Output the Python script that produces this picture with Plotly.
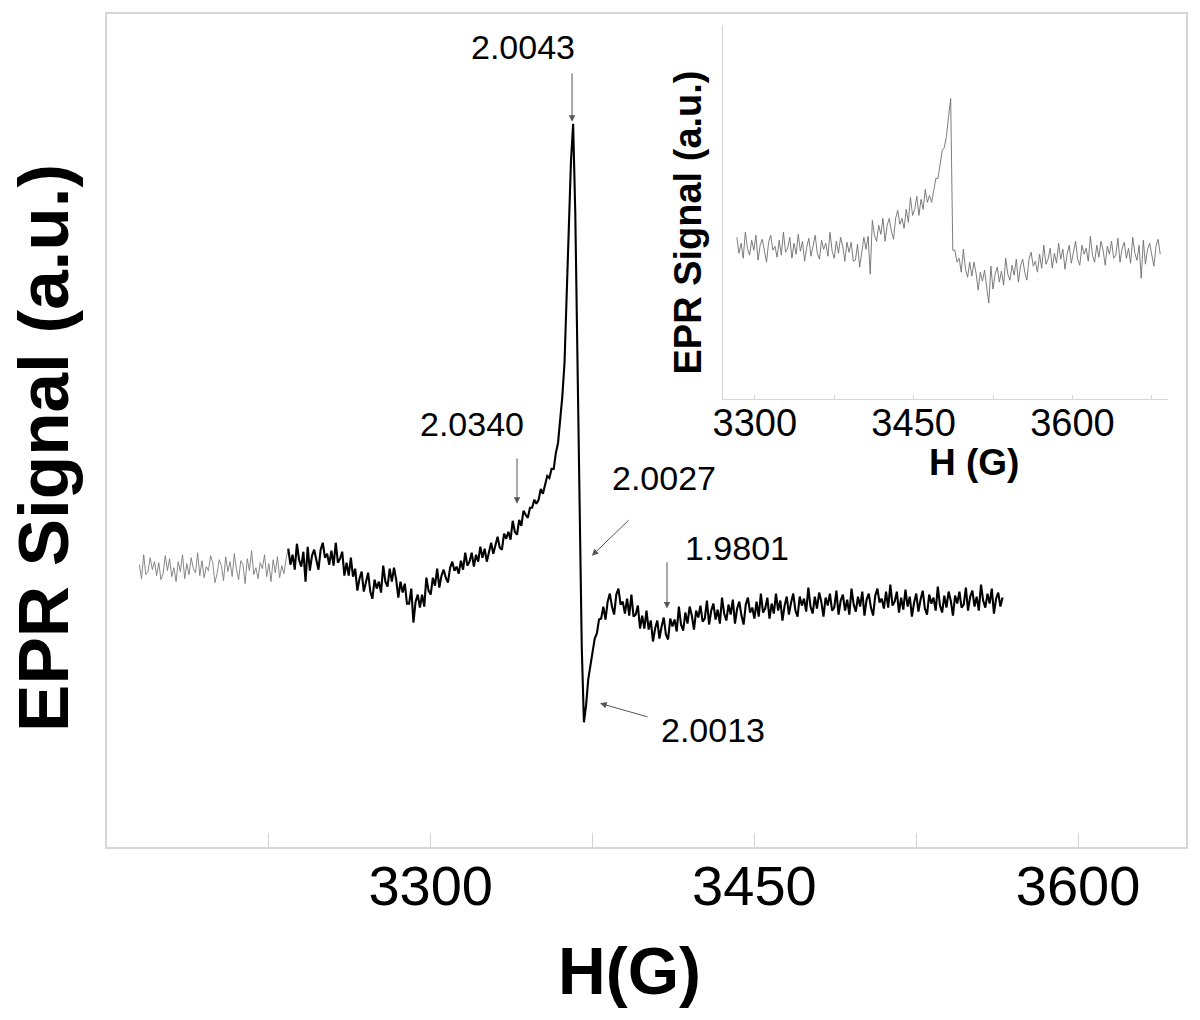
import numpy as np
import plotly.graph_objects as go

# Main spectrum: field sweep (G), 1 G per point
gray_start = 3165
gray_signal = [
    3, -11, 13, -7, -4, 10, -2, 6, -8, 5,
    -12, -6, 12, -3, 9, -9, 0, -14, 6, -4,
    13, -11, 4, -7, 10, -1, -5, 15, -8, 7,
    -10, 1, -3, 12, 5, -15, -6, 8, 2, -13,
    11, -4, 6, -9, 14, -2, -12, 7, 3, -16,
    9, -3, 17, -7, 0, -11, 5, -1, 13, -9,
    4, -14, 8, -5, 11, -10, 2, -6, 9, 19,
]

main_start = 3234
main_signal = [
    19, 3, 13, -2, 24, 8, 1, 16, -14, 21,
    -3, 12, 18, 7, -2, 18, 25, 10, 14, 3,
    17, 2, 25, 5, 9, 16, -8, 5, -8, 10,
    -9, -1, -23, -11, -4, -24, -13, -5, -24, -31,
    -12, -21, -14, -25, 2, -14, -19, -1, -14, 0,
    -12, -30, -14, -25, -16, -36, -36, -21, -55, -34,
    -27, -40, -27, -39, -10, -23, -27, -10, -18, -1,
    -20, -8, -2, -10, -15, 0, 6, -3, 1, -6,
    7, -2, 15, 2, 6, 15, 1, 13, 6, 21,
    10, 19, 6, 17, 25, 14, 23, 31, 20, 18,
    34, 29, 36, 28, 47, 36, 33, 48, 42, 57,
    53, 50, 60, 60, 68, 64, 68, 79, 74, 84,
    92, 90, 99, 99, 115, 125, 148, 172, 205, 265,
    340, 407, 445, 355, 215, 60, -80, -155, -138, -112,
    -97, -86, -71, -66, -52, -51, -39, -52, -34, -26,
    -39, -47, -27, -21, -37, -34, -46, -31, -48, -27,
    -49, -47, -38, -61, -48, -61, -43, -62, -53, -74,
    -61, -53, -71, -59, -50, -67, -72, -51, -59, -52,
    -64, -39, -57, -63, -45, -56, -39, -48, -62, -43,
    -50, -38, -54, -51, -33, -57, -43, -36, -52, -42,
    -56, -30, -46, -53, -37, -47, -32, -56, -41, -34,
    -48, -57, -37, -30, -45, -40, -51, -34, -49, -26,
    -45, -41, -30, -51, -36, -46, -26, -43, -33, -53,
    -38, -29, -47, -35, -26, -43, -49, -29, -38, -31,
    -44, -20, -39, -46, -29, -41, -25, -34, -49, -30,
    -38, -26, -43, -40, -23, -47, -33, -27, -43, -32,
    -47, -21, -37, -44, -29, -39, -24, -48, -32, -26,
    -40, -48, -28, -21, -35, -31, -41, -24, -40, -17,
    -38, -34, -24, -45, -30, -42, -22, -39, -29, -49,
    -35, -26, -44, -32, -23, -41, -47, -27, -36, -30,
    -43, -19, -38, -45, -28, -40, -24, -33, -48, -28,
    -36, -24, -40, -37, -20, -43, -29, -23, -39, -29,
    -43, -17, -33, -40, -26, -36, -21, -46, -31, -25,
    -39, -30,
]

# Inset spectrum: 2 G per point
inset_start = 3283
inset_signal = [
    11, -5, 5, -10, 16, 0, -7, 8, -2, 13,
    -12, 3, 9, -5, -14, 6, 13, -2, 2, -9,
    8, -7, 16, -4, 0, 11, -10, 5, -6, 14,
    -3, 7, -13, 1, 10, -8, 4, 13, -5, -11,
    8, -1, 5, -8, 16, -3, -10, 7, -5, 11,
    2, -13, 6, -4, 6, -13, -12, 4, -19, -1,
    11, -1, 12, -26, 28, 13, 7, 23, 14, 30,
    7, 23, 30, 17, 9, 30, 38, 24, 30, 20,
    39, 26, 51, 33, 39, 52, 33, 49, 39, 59,
    46, 53, 46, 58, 70, 70, 84, 98, 101, 112,
    132, 150, -2, -2, -14, -10, -24, -1, -21, -29,
    -14, -28, -14, -25, -42, -24, -33, -22, -39, -55,
    -18, -41, -26, -19, -34, -23, -37, -10, -26, -32,
    -17, -27, -11, -34, -18, -11, -24, -32, -11, -4,
    -18, -13, -24, -6, -20, 3, -16, -11, 0, -20,
    -5, -15, 5, -11, -1, -21, -6, 3, -15, -2,
    7, -11, -17, 3, -6, 0, -13, 12, -7, -14,
    3, -9, 7, -2, -17, 2, -6, 7, -10, -7,
    10, -14, 0, 6, -10, 0, -15, 11, -5, -12,
    3, -30, 8, -16, -1, 5, -9, -18, 2, 9,
    -6,
]

tick_vals = [3150, 3225, 3300, 3375, 3450, 3525, 3600]
tick_text = ["", "", "3300", "", "3450", "", "3600"]
inset_tick_vals = [3300, 3375, 3450, 3525, 3600, 3675]
inset_tick_text = ["3300", "", "3450", "", "3600", ""]

# g-value labels: (text, arrow head H, head y, tail H, tail y, text H, text y)
g_labels = [
    ("2.0043", 3365.5, 447, 3365.5, 497, 3342.8, 522),
    ("2.0340", 3340.0, 64, 3340.0, 111, 3319.1, 144),
    ("2.0027", 3374.7, 12, 3392.4, 49, 3408.1, 90),
    ("1.9801", 3409.5, -41, 3409.5, 7, 3441.9, 20),
    ("2.0013", 3378.5, -136, 3401.2, -150, 3430.8, -163),
]

gray_x = gray_start + np.arange(len(gray_signal))
main_x = main_start + np.arange(len(main_signal))
inset_x = inset_start + 2 * np.arange(len(inset_signal))

FONT = "Liberation Sans, Arial, sans-serif"
GRID = "#d6d6d6"

fig = go.Figure()
fig.add_trace(go.Scatter(x=gray_x, y=gray_signal, mode="lines",
                         line=dict(color="#7a7a7a", width=0.9), showlegend=False))
fig.add_trace(go.Scatter(x=main_x, y=main_signal, mode="lines",
                         line=dict(color="black", width=2.1), showlegend=False))
fig.add_trace(go.Scatter(x=inset_x, y=inset_signal, mode="lines",
                         line=dict(color="#6e6e6e", width=0.9), showlegend=False,
                         xaxis="x2", yaxis="y2"))

annotations = []
for txt, hx, hy, tx, ty, lx, ly in g_labels:
    annotations.append(dict(x=hx, y=hy, ax=tx, ay=ty, xref="x", yref="y",
                            axref="x", ayref="y", text="", showarrow=True,
                            arrowhead=2, arrowsize=1.3, arrowwidth=1,
                            arrowcolor="#555555"))
    annotations.append(dict(x=lx, y=ly, xref="x", yref="y", text=txt,
                            showarrow=False, font=dict(size=34, color="black")))

titles = [
    ("<b>EPR Signal (a.u.)</b>", -0.0584, 0.479, 71, -90),
    ("<b>H(G)</b>", 0.4847, -0.1485, 66, 0),
    ("<b>EPR Signal (a.u.)</b>", 0.5385, 0.7497, 38, -90),
    ("<b>H (G)</b>", 0.8035, 0.461, 37, 0),
]
for txt, x, y, size, ang in titles:
    annotations.append(dict(x=x, y=y, xref="paper", yref="paper", text=txt,
                            showarrow=False, textangle=ang,
                            xanchor="center", yanchor="middle",
                            font=dict(size=size, color="black")))

fig.update_layout(
    width=1184, height=1004,
    margin=dict(l=99, r=6, t=4, b=165),
    paper_bgcolor="white", plot_bgcolor="rgba(0,0,0,0)",
    font=dict(family=FONT, color="black"),
    annotations=annotations,
    xaxis=dict(range=[3150, 3650], domain=[0, 1], tickmode="array",
               tickvals=tick_vals, ticktext=tick_text, ticks="inside",
               ticklen=14, tickcolor=GRID, showgrid=False, zeroline=False,
               showline=True, linecolor=GRID, linewidth=1.5, mirror=True,
               tickfont=dict(size=56), ticklabelstandoff=-11),
    yaxis=dict(range=[-280, 555], domain=[0, 1], showticklabels=False,
               ticks="", showgrid=False, zeroline=False, showline=True,
               linecolor=GRID, linewidth=1.5, mirror=True),
    xaxis2=dict(range=[3270, 3690], domain=[0.571, 0.983], anchor="y2",
                tickmode="array", tickvals=inset_tick_vals,
                ticktext=inset_tick_text, ticks="inside", ticklen=4,
                tickcolor=GRID, showgrid=False, zeroline=False,
                showline=True, linecolor=GRID, linewidth=1.2,
                tickfont=dict(size=38), ticklabelstandoff=-10),
    yaxis2=dict(range=[-151, 224], domain=[0.538, 0.987], anchor="x2",
                showticklabels=False, ticks="", showgrid=False,
                zeroline=False, showline=True, linecolor=GRID, linewidth=1.2),
)

fig.write_html("out.html")
